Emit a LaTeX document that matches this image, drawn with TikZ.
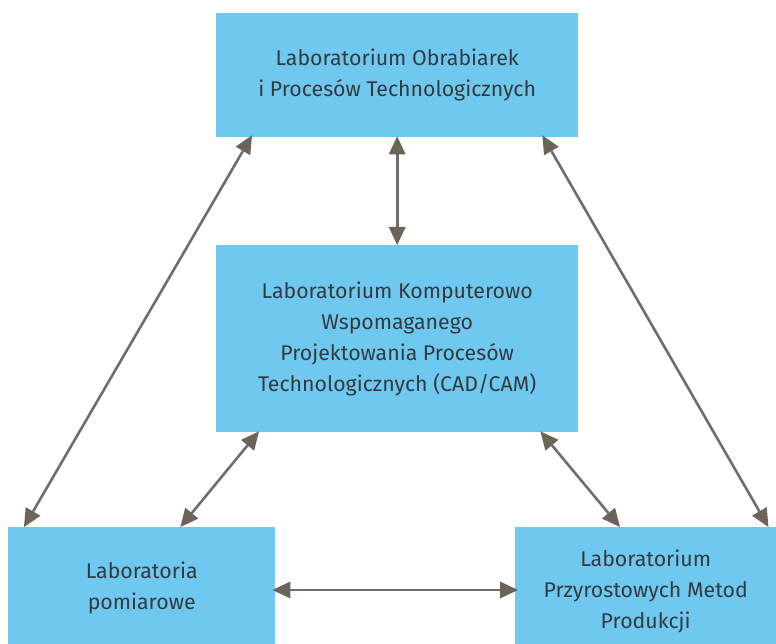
\documentclass[tikz,border=0pt]{standalone}
\usepackage{fontspec}
\setmainfont{Fira Sans}
\usetikzlibrary{arrows.meta,calc}
\definecolor{boxblue}{HTML}{6EC8F0}
\definecolor{linegray}{HTML}{6E6E70}
\definecolor{headbrown}{HTML}{6B6457}
\definecolor{txtgray}{HTML}{353A3D}
\begin{document}
\begin{tikzpicture}[x=1pt,y=1pt,
  labbox/.style={fill=boxblue, draw=none, inner sep=0pt, anchor=north west,
    align=center, text=txtgray, font=\fontsize{21.3}{31}\selectfont},
  link/.style={draw=linegray, line width=2.6pt,
    {Triangle[length=18pt,width=17pt,fill=headbrown,line width=0pt]}-{Triangle[length=18pt,width=17pt,fill=headbrown,line width=0pt]}}
]
\useasboundingbox (0,0) rectangle (776,-644);
\node[labbox, minimum width=362pt, minimum height=124pt] (top) at (216,-13)
  {Laboratorium Obrabiarek\\i Procesów Technologicznych};
\node[labbox, minimum width=362pt, minimum height=187pt] (mid) at (216,-245)
  {Laboratorium Komputerowo\\Wspomaganego\\Projektowania Procesów\\Technologicznych (CAD/CAM)};
\node[labbox, minimum width=267pt, minimum height=117pt] (bl) at (8,-527)
  {\rule{0pt}{21pt}Laboratoria\\pomiarowe};
\node[labbox, minimum width=261pt, minimum height=117pt] (br) at (515,-527)
  {\rule{0pt}{29pt}Laboratorium\\Przyrostowych Metod\\Produkcji};
\draw[link] ($(top.south west)+(36,2)$) -- ($(bl.north west)+(16,0)$);
\draw[link] ($(top.south)+(0,1)$) -- (mid.north);
\draw[link] ($(top.south east)+(-36,2)$) -- ($(br.north east)+(-8,0)$);
\draw[link] ($(mid.south west)+(43,1)$) -- ($(bl.north east)+(-95,0)$);
\draw[link] ($(mid.south east)+(-38,1)$) -- ($(br.north west)+(105,0)$);
\draw[link] ($(bl.north east)+(-3,-63)$) -- ($(br.north west)+(3,-63)$);
\end{tikzpicture}
\end{document}
